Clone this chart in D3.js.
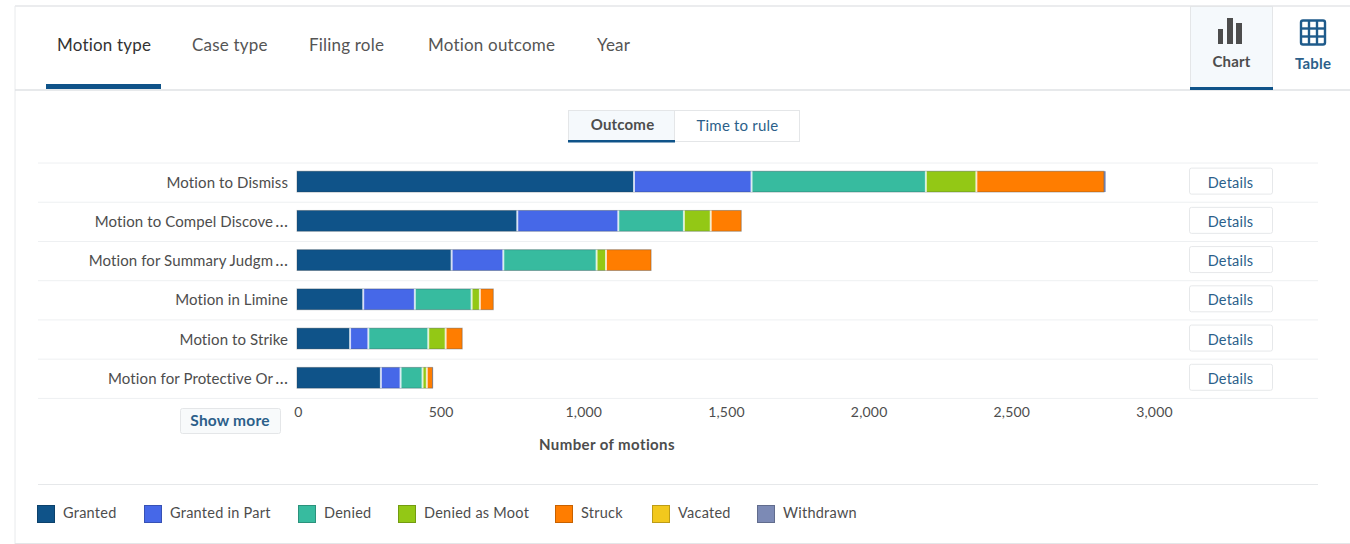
<!DOCTYPE html>
<html><head><meta charset="utf-8">
<script src="https://cdn.jsdelivr.net/npm/d3@7/dist/d3.min.js"></script>
<style>
html,body{margin:0;padding:0;background:#fff;overflow:hidden}
svg{display:block}
text{font-family:"Lato","Noto Sans",sans-serif}
</style></head><body>
<svg id="c" width="1350" height="544"></svg>
<script>
const categories=["Motion to Dismiss","Motion to Compel Discove…","Motion for Summary Judgm…","Motion in Limine","Motion to Strike","Motion for Protective Or…"];
const seriesNames=["Granted","Granted in Part","Denied","Denied as Moot","Struck","Vacated","Withdrawn"];
const seriesColors=["#0f5389","#4668e8","#37bb9f","#93c815","#ff7d00","#f2c81d","#7c8ab5"];
const granted=[1181,772,542,232,186,294];
const grantedInPart=[412,354,181,181,64,69];
const denied=[611,230,327,199,210,77];
const deniedAsMoot=[177,94,33,29,61,15];
const struck=[447,107,158,47,58,20];
const vacated=[0,0,0,0,0,0];
const withdrawn=[6,0,0,0,0,2];
const allSeries=[granted,grantedInPart,denied,deniedAsMoot,struck,vacated,withdrawn];
const xTicks=[0,500,1000,1500,2000,2500,3000];
const tabs=["Motion type","Case type","Filing role","Motion outcome","Year"];
const tabX=[57,192,309,428,597];
const legendX=[37,144,298,398,555,652,757];

const svg=d3.select("#c");
const line="#e6e8ea",faint="#eef0f2",txt="#4d4d4d",blue="#2c5f8a";
function hl(x1,x2,y,c,w=1){svg.append("line").attr("x1",x1).attr("x2",x2).attr("y1",y).attr("y2",y).attr("stroke",c).attr("stroke-width",w);}
function t(x,y,s,o={}){return svg.append("text").attr("x",x).attr("y",y).text(s).attr("font-size",o.size||14.5).attr("fill",o.fill||txt).attr("font-weight",o.weight||400).attr("text-anchor",o.anchor||"start").attr("letter-spacing",o.ls===undefined?0.2:o.ls);}

// card frame
hl(15,1350,6,"#e4e6e8",1.5);
svg.append("line").attr("x1",15).attr("x2",15).attr("y1",6).attr("y2",544).attr("stroke","#e8eaec");
hl(15,1350,90,"#dfe2e5",1.5);
hl(15,1350,543.5,"#e4e6e8",1);

// tabs
tabs.forEach((d,i)=>t(tabX[i],51,d,{size:17,fill:i==0?"#333":"#555"}));
svg.append("rect").attr("x",46).attr("y",84).attr("width",115).attr("height",5).attr("fill","#0f5389");

// chart / table toggle
svg.append("rect").attr("x",1190.5).attr("y",6.5).attr("width",82).attr("height",83).attr("fill","#f5f9fc").attr("stroke","#e4e6e8");
svg.append("rect").attr("x",1190).attr("y",87).attr("width",83).attr("height",3).attr("fill","#0f5389");
[[1218,29,5,15],[1227,18,6,26],[1236,23,6,21]].forEach(b=>svg.append("rect").attr("x",b[0]).attr("y",b[1]).attr("width",b[2]).attr("height",b[3]).attr("fill","#4d4d4d"));
t(1231.5,67,"Chart",{anchor:"middle",size:15,fill:"#4d4d4d",weight:700});
const g=svg.append("g").attr("fill","none").attr("stroke","#1f5b8b").attr("stroke-width",2.4);
g.append("rect").attr("x",1301).attr("y",20.5).attr("width",24).attr("height",24).attr("rx",2);
[8,16].forEach(o=>{g.append("line").attr("x1",1301+o).attr("x2",1301+o).attr("y1",20.5).attr("y2",44.5);g.append("line").attr("x1",1301).attr("x2",1325).attr("y1",20.5+o).attr("y2",20.5+o);});
t(1313,69,"Table",{anchor:"middle",size:15,fill:blue,weight:700});

// outcome toggle
svg.append("rect").attr("x",568.5).attr("y",110.5).attr("width",231).attr("height",31).attr("fill","#fff").attr("stroke","#e4e6e8");
svg.append("rect").attr("x",568.5).attr("y",110.5).attr("width",106).attr("height",31).attr("fill","#f5f9fc").attr("stroke","#e4e6e8");
svg.append("rect").attr("x",568).attr("y",140).attr("width",107).attr("height",2.5).attr("fill","#0f5389");
t(622.5,130,"Outcome",{anchor:"middle",size:15,weight:700,fill:"#4d4d4d"});
t(737.5,131,"Time to rule",{anchor:"middle",size:15,fill:blue});

// scales
const x=d3.scaleLinear().domain([0,3000]).range([297,1153]);
const y=d3.scaleBand().domain(categories).range([162,397.4]).paddingInner(0.47).paddingOuter(0.235);

// row rules
d3.range(7).forEach(i=>hl(38,1318,163+i*(398.4-163)/6,faint));

// stacked bars
const rows=categories.map((c,i)=>{const o={cat:c};seriesNames.forEach((s,j)=>o[s]=allSeries[j][i]);return o;});
const stacked=d3.stack().keys(seriesNames)(rows);
const bars=svg.append("g");
stacked.forEach((layer,j)=>{
  bars.selectAll(null).data(layer.filter(d=>d[1]>d[0])).enter().append("rect")
    .attr("x",d=>x(d[0])).attr("y",d=>y(d.data.cat)).attr("width",d=>x(d[1])-x(d[0])).attr("height",y.bandwidth())
    .attr("fill",seriesColors[j]);
});
// soft dark outline around each full bar
rows.forEach(r=>{
  const tot=d3.sum(seriesNames,s=>r[s])-r["Withdrawn"];
  bars.append("rect").attr("x",x(0)).attr("y",y(r.cat)).attr("width",x(tot)-x(0)).attr("height",y.bandwidth())
    .attr("fill","none").attr("stroke","#2b3a44").attr("stroke-opacity",0.35).attr("stroke-width",1);
});
// pale separators between segments
stacked.slice(0,4).forEach(layer=>{
  bars.selectAll(null).data(layer.filter(d=>d[1]>d[0])).enter().append("line")
    .attr("x1",d=>x(d[1])).attr("x2",d=>x(d[1])).attr("y1",d=>y(d.data.cat)).attr("y2",d=>y(d.data.cat)+y.bandwidth())
    .attr("stroke","#fff").attr("stroke-opacity",0.75).attr("stroke-width",2);
});

// category labels and details buttons
categories.forEach(c=>{
  const cy=y(c)+y.bandwidth()/2;
  const cut=c.endsWith("…");
  const lab=t(288,cy+6,cut?c.slice(0,-1):c,{anchor:"end",size:15,ls:0.1});
  if(cut) lab.append("tspan").attr("dx",2).attr("font-size",17).text("…");
  svg.append("rect").attr("x",1189.5).attr("y",cy-13.5).attr("width",83).attr("height",26).attr("rx",2).attr("fill","#fff").attr("stroke","#e6e8ea");
  t(1230.5,cy+6,"Details",{anchor:"middle",size:14.5,fill:blue});
});

// x axis
const axis=d3.axisBottom(x).tickValues(xTicks).tickFormat(d3.format(",")).tickSize(0).tickPadding(0);
const ax=svg.append("g").attr("transform","translate(1,407)").call(axis);
ax.select(".domain").remove();
ax.selectAll("text").attr("font-size",14).attr("fill",txt).attr("font-family","Lato").attr("letter-spacing",0.2);
t(607,450,"Number of motions",{anchor:"middle",size:15,ls:0.4,weight:700,fill:"#4d4d4d"});

// show more
svg.append("rect").attr("x",180.5).attr("y",408.5).attr("width",100).attr("height",25).attr("rx",2).attr("fill","#f8fafb").attr("stroke","#e4e6e8");
t(230,426,"Show more",{anchor:"middle",size:15.5,weight:700,fill:blue});

// legend
hl(38,1318,484.5,"#e6e8ea",1);
seriesNames.forEach((s,i)=>{
  svg.append("rect").attr("x",legendX[i]+.5).attr("y",505.5).attr("width",17).attr("height",17).attr("fill",seriesColors[i]).attr("stroke",d3.color(seriesColors[i]).darker(0.7));
  t(legendX[i]+26,518,s,{size:14.5,ls:0.25});
});
</script></body></html>
